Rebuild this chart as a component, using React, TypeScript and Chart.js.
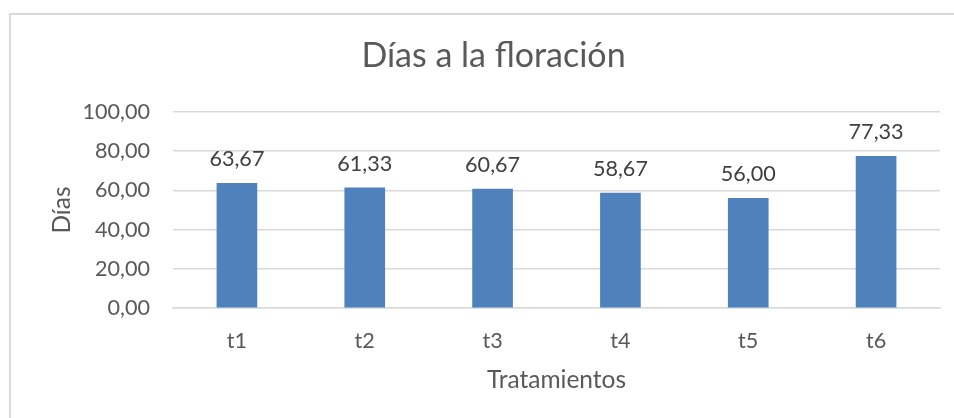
import React, { useEffect, useRef } from "react";
import { Chart, registerables } from "chart.js";

Chart.register(...registerables);

const categories = ["t1", "t2", "t3", "t4", "t5", "t6"];
const values = [63.67, 61.33, 60.67, 58.67, 56.0, 77.33];
const chartTitle = "Días a la floración";
const xTitle = "Tratamientos";
const yTitle = "Días";

const fmt = (v: number) => v.toFixed(2).replace(".", ",");

const FONT = "Lato, 'Open Sans', sans-serif";

const borderPlugin = {
  id: "outerBorder",
  beforeDraw(chart: any) {
    const ctx = chart.ctx;
    ctx.save();
    ctx.fillStyle = "#ffffff";
    ctx.fillRect(0, 0, chart.width, chart.height);
    ctx.strokeStyle = "#d9d9d9";
    ctx.lineWidth = 2;
    ctx.strokeRect(10, 14, 1200, 800);
    ctx.restore();
  },
};

const dataLabelPlugin = {
  id: "dataLabels",
  afterDatasetsDraw(chart: any) {
    const ctx = chart.ctx;
    const meta = chart.getDatasetMeta(0);
    const ds = chart.data.datasets[0];
    ctx.save();
    ctx.fillStyle = "#404040";
    ctx.font = `21.6px ${FONT}`;
    ctx.textAlign = "center";
    ctx.textBaseline = "middle";
    meta.data.forEach((el: any, i: number) => {
      ctx.fillText(fmt(ds.data[i] as number), el.x, el.y - 24);
    });
    ctx.restore();
  },
};

export default function App() {
  const ref = useRef<HTMLCanvasElement | null>(null);
  useEffect(() => {
    if (!ref.current) return;
    const chart = new Chart(ref.current, {
      type: "bar",
      data: {
        labels: categories,
        datasets: [
          {
            data: values,
            backgroundColor: "#4f81bd",
            borderWidth: 0,
            barThickness: 40,
          },
        ],
      },
      plugins: [borderPlugin, dataLabelPlugin],
      options: {
        animation: false,
        responsive: false,
        devicePixelRatio: 1,
        layout: { padding: { left: 47, right: 14, top: 0, bottom: 16 } },
        plugins: {
          legend: { display: false },
          tooltip: { enabled: false },
          title: {
            display: true,
            text: chartTitle,
            color: "#595959",
            font: { family: FONT, size: 34, weight: "normal" },
            padding: { top: 36, bottom: 35.2 },
          },
        },
        scales: {
          x: {
            grid: { display: false, drawTicks: false },
            border: { display: true, color: "#d9d9d9", width: 1.5 },
            ticks: {
              color: "#595959",
              font: { family: FONT, size: 21.6 },
              padding: 20,
            },
            title: {
              display: true,
              text: xTitle,
              color: "#595959",
              font: { family: FONT, size: 24.5 },
              padding: { top: 0, bottom: 7 },
            },
            afterFit(scale: any) {
              scale.height = 418 - 308 - 16;
            },
          },
          y: {
            min: 0,
            max: 100,
            ticks: {
              stepSize: 20,
              color: "#595959",
              font: { family: FONT, size: 21.6 },
              padding: 23,
              callback: (v: any) => fmt(Number(v)),
            },
            grid: { color: "#d9d9d9", lineWidth: 1.5, drawTicks: false },
            border: { display: false },
            title: {
              display: true,
              text: yTitle,
              color: "#595959",
              font: { family: FONT, size: 24.5 },
              padding: { top: 0, bottom: 0 },
            },
            afterFit(scale: any) {
              scale.width = 173 - 47;
            },
          },
        },
      },
    });
    return () => chart.destroy();
  }, []);
  return (
    <div style={{ position: "absolute", left: 0, top: 0, width: 954, height: 418 }}>
      <canvas ref={ref} width={954} height={418} style={{ display: "block" }} />
    </div>
  );
}
